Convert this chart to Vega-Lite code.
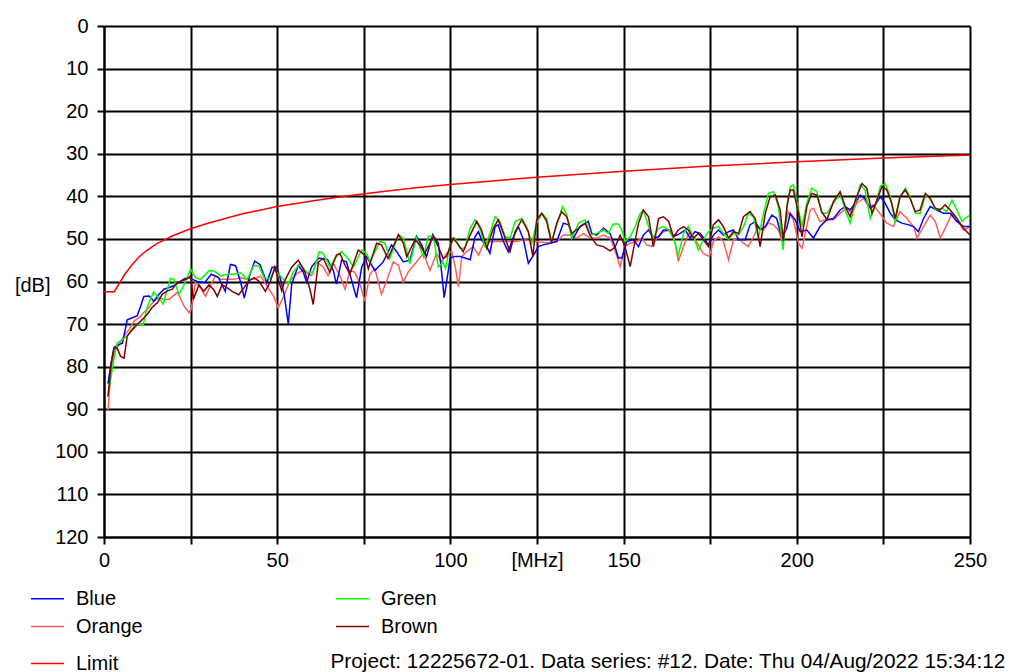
{
"$schema":"https://vega.github.io/schema/vega-lite/v6.json",
"width":866,"height":511,
"autosize":{"type":"none"},
"padding":{"left":104,"top":26,"right":52,"bottom":135},
"background":"white",
"config":{"font":"Liberation Sans","view":{"stroke":null},
"axis":{"grid":true,"gridColor":"#000000","gridWidth":2,"gridOpacity":1,"domainColor":"#000000","domainWidth":2,"tickColor":"#000000","tickWidth":2,"tickSize":7,"labelFontSize":20,"labelColor":"#000000","labelOverlap":false,"labelFlush":false,"labelBound":false,"titleFontSize":20,"titleFontWeight":"normal","titleColor":"#000000"},
"legend":{"labelFontSize":20,"labelColor":"#000000","symbolType":"stroke","symbolStrokeWidth":1.5,"symbolSize":1089,"labelOffset":11,"padding":0,"title":null}},
"datasets":{
"meas":[
{"series":"Orange","MHz":1.15,"dB":90.2},{"series":"Orange","MHz":1.9,"dB":82.3},{"series":"Orange","MHz":2.9,"dB":76.8},{"series":"Orange","MHz":4.3,"dB":74.8},{"series":"Orange","MHz":5.8,"dB":72.8},{"series":"Orange","MHz":7.2,"dB":71.3},{"series":"Orange","MHz":8.7,"dB":69.3},{"series":"Orange","MHz":10.1,"dB":68.5},{"series":"Orange","MHz":11.5,"dB":67.3},{"series":"Orange","MHz":13,"dB":66.1},{"series":"Orange","MHz":14.4,"dB":64.6},{"series":"Orange","MHz":15.9,"dB":63.8},{"series":"Orange","MHz":17.3,"dB":64.2},{"series":"Orange","MHz":18.8,"dB":64.2},{"series":"Orange","MHz":20.2,"dB":63.2},{"series":"Orange","MHz":21.2,"dB":62.5},{"series":"Orange","MHz":23.1,"dB":65.7},{"series":"Orange","MHz":24.5,"dB":67.3},{"series":"Orange","MHz":25.2,"dB":66.5},{"series":"Orange","MHz":26.4,"dB":60.2},{"series":"Orange","MHz":27.9,"dB":61.5},{"series":"Orange","MHz":29.3,"dB":63.5},{"series":"Orange","MHz":30.8,"dB":60.8},{"series":"Orange","MHz":32.2,"dB":58.7},{"series":"Orange","MHz":33.7,"dB":59.5},{"series":"Orange","MHz":35.6,"dB":59.5},{"series":"Orange","MHz":37.5,"dB":59.5},{"series":"Orange","MHz":39.4,"dB":59.1},{"series":"Orange","MHz":41.3,"dB":59.5},{"series":"Orange","MHz":43.3,"dB":59.5},{"series":"Orange","MHz":45.2,"dB":58.7},{"series":"Orange","MHz":47.1,"dB":61.1},{"series":"Orange","MHz":49,"dB":63.5},{"series":"Orange","MHz":50.3,"dB":66.2},{"series":"Orange","MHz":51.7,"dB":63.8},{"series":"Orange","MHz":53.7,"dB":59.8},{"series":"Orange","MHz":55.6,"dB":58.2},{"series":"Orange","MHz":57.5,"dB":57.4},{"series":"Orange","MHz":59.9,"dB":58.6},{"series":"Orange","MHz":61.4,"dB":55.4},{"series":"Orange","MHz":63.3,"dB":56.6},{"series":"Orange","MHz":64.7,"dB":58.6},{"series":"Orange","MHz":66.2,"dB":55.8},{"series":"Orange","MHz":68.1,"dB":58.6},{"series":"Orange","MHz":69.6,"dB":61.8},{"series":"Orange","MHz":71,"dB":57.4},{"series":"Orange","MHz":72.4,"dB":57.8},{"series":"Orange","MHz":73.9,"dB":60.6},{"series":"Orange","MHz":75.3,"dB":64.6},{"series":"Orange","MHz":76.8,"dB":58.2},{"series":"Orange","MHz":78.2,"dB":57},{"series":"Orange","MHz":80.1,"dB":63},{"series":"Orange","MHz":81.6,"dB":59.8},{"series":"Orange","MHz":83.5,"dB":55.4},{"series":"Orange","MHz":85,"dB":56.2},{"series":"Orange","MHz":86.4,"dB":60.2},{"series":"Orange","MHz":87.8,"dB":57.8},{"series":"Orange","MHz":90.2,"dB":55.4},{"series":"Orange","MHz":92.2,"dB":53.4},{"series":"Orange","MHz":94.1,"dB":57.4},{"series":"Orange","MHz":96,"dB":53.4},{"series":"Orange","MHz":97.5,"dB":55.4},{"series":"Orange","MHz":98.9,"dB":53.4},{"series":"Orange","MHz":100.4,"dB":53},{"series":"Orange","MHz":101.5,"dB":57},{"series":"Orange","MHz":102.3,"dB":61.2},{"series":"Orange","MHz":103.3,"dB":54.1},{"series":"Orange","MHz":104.7,"dB":53},{"series":"Orange","MHz":106.6,"dB":51.8},{"series":"Orange","MHz":108.1,"dB":53.8},{"series":"Orange","MHz":109.5,"dB":51.4},{"series":"Orange","MHz":111.4,"dB":50.6},{"series":"Orange","MHz":115.3,"dB":50.6},{"series":"Orange","MHz":119.1,"dB":50.6},{"series":"Orange","MHz":121.1,"dB":50.2},{"series":"Orange","MHz":124.9,"dB":50.6},{"series":"Orange","MHz":128.8,"dB":51},{"series":"Orange","MHz":130.7,"dB":50.6},{"series":"Orange","MHz":132.6,"dB":49.1},{"series":"Orange","MHz":134.5,"dB":49.1},{"series":"Orange","MHz":136.5,"dB":49.8},{"series":"Orange","MHz":138.4,"dB":48.7},{"series":"Orange","MHz":140.3,"dB":49.8},{"series":"Orange","MHz":142.2,"dB":49.8},{"series":"Orange","MHz":144.2,"dB":49.1},{"series":"Orange","MHz":146.1,"dB":49.8},{"series":"Orange","MHz":147.5,"dB":52.6},{"series":"Orange","MHz":149,"dB":56.5},{"series":"Orange","MHz":150.4,"dB":51.8},{"series":"Orange","MHz":151.9,"dB":51},{"series":"Orange","MHz":153.8,"dB":50.6},{"series":"Orange","MHz":155.2,"dB":49.8},{"series":"Orange","MHz":156.7,"dB":51.4},{"series":"Orange","MHz":158.1,"dB":51.8},{"series":"Orange","MHz":159.6,"dB":49.8},{"series":"Orange","MHz":161.5,"dB":48.3},{"series":"Orange","MHz":163.4,"dB":47.9},{"series":"Orange","MHz":164.9,"dB":51},{"series":"Orange","MHz":165.8,"dB":55.3},{"series":"Orange","MHz":167.3,"dB":51.8},{"series":"Orange","MHz":168.7,"dB":48.7},{"series":"Orange","MHz":170.2,"dB":49.5},{"series":"Orange","MHz":171.6,"dB":51.4},{"series":"Orange","MHz":173,"dB":53.4},{"series":"Orange","MHz":174.8,"dB":54.1},{"series":"Orange","MHz":175.9,"dB":50.6},{"series":"Orange","MHz":177.4,"dB":49.5},{"series":"Orange","MHz":178.8,"dB":50.6},{"series":"Orange","MHz":180.3,"dB":54.9},{"series":"Orange","MHz":181.7,"dB":50.2},{"series":"Orange","MHz":183.2,"dB":49.8},{"series":"Orange","MHz":184.6,"dB":51},{"series":"Orange","MHz":186,"dB":51.8},{"series":"Orange","MHz":187.5,"dB":49.5},{"series":"Orange","MHz":188.9,"dB":47.1},{"series":"Orange","MHz":190.4,"dB":47.9},{"series":"Orange","MHz":191.8,"dB":46.3},{"series":"Orange","MHz":193.3,"dB":46.7},{"series":"Orange","MHz":194.7,"dB":47.9},{"series":"Orange","MHz":195.7,"dB":50.6},{"series":"Orange","MHz":197.5,"dB":43.7},{"series":"Orange","MHz":199,"dB":45.5},{"series":"Orange","MHz":200.5,"dB":51},{"series":"Orange","MHz":201.5,"dB":52.2},{"series":"Orange","MHz":203.9,"dB":43.2},{"series":"Orange","MHz":204.8,"dB":42.8},{"series":"Orange","MHz":206.7,"dB":45.9},{"series":"Orange","MHz":208.7,"dB":45.5},{"series":"Orange","MHz":210.6,"dB":45.5},{"series":"Orange","MHz":212.5,"dB":44},{"series":"Orange","MHz":214.4,"dB":42.8},{"series":"Orange","MHz":215.9,"dB":44},{"series":"Orange","MHz":217.3,"dB":41.6},{"series":"Orange","MHz":219.3,"dB":40.5},{"series":"Orange","MHz":220.7,"dB":42.4},{"series":"Orange","MHz":222.1,"dB":42},{"series":"Orange","MHz":223.6,"dB":43.6},{"series":"Orange","MHz":226,"dB":46.3},{"series":"Orange","MHz":227.9,"dB":47.1},{"series":"Orange","MHz":229.8,"dB":43.6},{"series":"Orange","MHz":231.8,"dB":45.2},{"series":"Orange","MHz":233.7,"dB":47.1},{"series":"Orange","MHz":234.7,"dB":49.8},{"series":"Orange","MHz":236.6,"dB":47.1},{"series":"Orange","MHz":238.5,"dB":44.4},{"series":"Orange","MHz":240,"dB":45.9},{"series":"Orange","MHz":241.4,"dB":49.8},{"series":"Orange","MHz":243.3,"dB":46.7},{"series":"Orange","MHz":244.8,"dB":44},{"series":"Orange","MHz":246.2,"dB":45.2},{"series":"Orange","MHz":248.1,"dB":47.9},{"series":"Orange","MHz":250,"dB":47.1},
{"series":"Blue","MHz":1.15,"dB":84},{"series":"Blue","MHz":1.9,"dB":80},{"series":"Blue","MHz":2.9,"dB":75.5},{"series":"Blue","MHz":3.8,"dB":75},{"series":"Blue","MHz":5.3,"dB":74.5},{"series":"Blue","MHz":6.2,"dB":71},{"series":"Blue","MHz":6.7,"dB":69},{"series":"Blue","MHz":8.2,"dB":68.5},{"series":"Blue","MHz":9.6,"dB":68},{"series":"Blue","MHz":10.5,"dB":66},{"series":"Blue","MHz":11.5,"dB":63.5},{"series":"Blue","MHz":13,"dB":63.4},{"series":"Blue","MHz":14.4,"dB":64.6},{"series":"Blue","MHz":15.9,"dB":63},{"series":"Blue","MHz":17.3,"dB":61.8},{"series":"Blue","MHz":18.8,"dB":61.4},{"series":"Blue","MHz":20.2,"dB":61},{"series":"Blue","MHz":21.6,"dB":60.2},{"series":"Blue","MHz":23.1,"dB":59.4},{"series":"Blue","MHz":24.5,"dB":59},{"series":"Blue","MHz":25.5,"dB":59.5},{"series":"Blue","MHz":27,"dB":60},{"series":"Blue","MHz":29,"dB":60.3},{"series":"Blue","MHz":31,"dB":58.3},{"series":"Blue","MHz":33,"dB":59},{"series":"Blue","MHz":35,"dB":62.3},{"series":"Blue","MHz":36.5,"dB":56},{"series":"Blue","MHz":38,"dB":56.3},{"series":"Blue","MHz":39.5,"dB":60.3},{"series":"Blue","MHz":40.5,"dB":63.9},{"series":"Blue","MHz":42,"dB":58.7},{"series":"Blue","MHz":43.5,"dB":55.2},{"series":"Blue","MHz":45,"dB":56},{"series":"Blue","MHz":47,"dB":60.3},{"series":"Blue","MHz":48.5,"dB":56.7},{"series":"Blue","MHz":49.8,"dB":56.6},{"series":"Blue","MHz":50.8,"dB":59},{"series":"Blue","MHz":52,"dB":63},{"series":"Blue","MHz":53.2,"dB":70},{"series":"Blue","MHz":54.2,"dB":60.6},{"series":"Blue","MHz":56.1,"dB":56.2},{"series":"Blue","MHz":57.5,"dB":57.8},{"series":"Blue","MHz":58.5,"dB":60.2},{"series":"Blue","MHz":59.9,"dB":56.6},{"series":"Blue","MHz":62,"dB":54.5},{"series":"Blue","MHz":64.5,"dB":54.8},{"series":"Blue","MHz":66.2,"dB":57.4},{"series":"Blue","MHz":67.1,"dB":60.6},{"series":"Blue","MHz":68.6,"dB":55},{"series":"Blue","MHz":70,"dB":55.4},{"series":"Blue","MHz":71.5,"dB":59.8},{"series":"Blue","MHz":72.9,"dB":63.8},{"series":"Blue","MHz":74.4,"dB":56.6},{"series":"Blue","MHz":75.8,"dB":54.2},{"series":"Blue","MHz":78.2,"dB":57.4},{"series":"Blue","MHz":80.6,"dB":55.4},{"series":"Blue","MHz":83,"dB":51.4},{"series":"Blue","MHz":84.5,"dB":53},{"series":"Blue","MHz":86.4,"dB":55.4},{"series":"Blue","MHz":88.3,"dB":55},{"series":"Blue","MHz":90.2,"dB":49.4},{"series":"Blue","MHz":91.7,"dB":51.4},{"series":"Blue","MHz":93.1,"dB":54.2},{"series":"Blue","MHz":94.9,"dB":49},{"series":"Blue","MHz":96.5,"dB":51},{"series":"Blue","MHz":97.5,"dB":58},{"series":"Blue","MHz":98.2,"dB":63.8},{"series":"Blue","MHz":99.4,"dB":57.4},{"series":"Blue","MHz":99.9,"dB":54.5},{"series":"Blue","MHz":101.3,"dB":54.1},{"series":"Blue","MHz":102.8,"dB":54.1},{"series":"Blue","MHz":104.2,"dB":54.5},{"series":"Blue","MHz":105.7,"dB":54.9},{"series":"Blue","MHz":107.1,"dB":49.5},{"series":"Blue","MHz":108.1,"dB":48.3},{"series":"Blue","MHz":109,"dB":50.2},{"series":"Blue","MHz":110.5,"dB":51.8},{"series":"Blue","MHz":111.4,"dB":53.4},{"series":"Blue","MHz":112.9,"dB":47.1},{"series":"Blue","MHz":113.8,"dB":46.7},{"series":"Blue","MHz":115.3,"dB":50.6},{"series":"Blue","MHz":116.7,"dB":53},{"series":"Blue","MHz":118.2,"dB":49.5},{"series":"Blue","MHz":119.6,"dB":47.1},{"series":"Blue","MHz":121.1,"dB":50.2},{"series":"Blue","MHz":122.5,"dB":55.7},{"series":"Blue","MHz":124,"dB":53.8},{"series":"Blue","MHz":125.4,"dB":51.8},{"series":"Blue","MHz":126.8,"dB":51.4},{"series":"Blue","MHz":128.8,"dB":51},{"series":"Blue","MHz":130.7,"dB":50.6},{"series":"Blue","MHz":132.6,"dB":46.3},{"series":"Blue","MHz":134.1,"dB":46.7},{"series":"Blue","MHz":135.5,"dB":49.8},{"series":"Blue","MHz":137.4,"dB":47.1},{"series":"Blue","MHz":139.8,"dB":45.9},{"series":"Blue","MHz":140.8,"dB":48.7},{"series":"Blue","MHz":142.2,"dB":49.1},{"series":"Blue","MHz":144.2,"dB":47.5},{"series":"Blue","MHz":146.1,"dB":48.7},{"series":"Blue","MHz":147.5,"dB":51.8},{"series":"Blue","MHz":148.5,"dB":54.5},{"series":"Blue","MHz":149.5,"dB":54.5},{"series":"Blue","MHz":150.9,"dB":50.6},{"series":"Blue","MHz":152.8,"dB":50.2},{"series":"Blue","MHz":154.3,"dB":51.8},{"series":"Blue","MHz":155.7,"dB":49.1},{"series":"Blue","MHz":157.2,"dB":47.9},{"series":"Blue","MHz":158.6,"dB":49.8},{"series":"Blue","MHz":160.1,"dB":49.5},{"series":"Blue","MHz":161.5,"dB":47.9},{"series":"Blue","MHz":163,"dB":47.9},{"series":"Blue","MHz":164.4,"dB":49.5},{"series":"Blue","MHz":166.3,"dB":48.7},{"series":"Blue","MHz":167.8,"dB":47.9},{"series":"Blue","MHz":169.2,"dB":49.8},{"series":"Blue","MHz":170.6,"dB":48.3},{"series":"Blue","MHz":172.1,"dB":48.7},{"series":"Blue","MHz":173.5,"dB":50.2},{"series":"Blue","MHz":174.5,"dB":51.4},{"series":"Blue","MHz":175.9,"dB":49.1},{"series":"Blue","MHz":177.4,"dB":47.9},{"series":"Blue","MHz":178.8,"dB":49.1},{"series":"Blue","MHz":180.3,"dB":48.3},{"series":"Blue","MHz":181.7,"dB":47.9},{"series":"Blue","MHz":183.2,"dB":50.2},{"series":"Blue","MHz":185.1,"dB":50.2},{"series":"Blue","MHz":186.5,"dB":46.7},{"series":"Blue","MHz":188,"dB":45.9},{"series":"Blue","MHz":189.4,"dB":47.9},{"series":"Blue","MHz":190.9,"dB":47.1},{"series":"Blue","MHz":192.8,"dB":44.4},{"series":"Blue","MHz":194.2,"dB":45.2},{"series":"Blue","MHz":195.7,"dB":49.8},{"series":"Blue","MHz":197.1,"dB":47.5},{"series":"Blue","MHz":198.1,"dB":44},{"series":"Blue","MHz":199.5,"dB":45.5},{"series":"Blue","MHz":201,"dB":48.3},{"series":"Blue","MHz":202.9,"dB":47.9},{"series":"Blue","MHz":204.8,"dB":49.8},{"series":"Blue","MHz":206.7,"dB":47.1},{"series":"Blue","MHz":208.7,"dB":45.5},{"series":"Blue","MHz":210.6,"dB":45.2},{"series":"Blue","MHz":212.5,"dB":43.2},{"series":"Blue","MHz":214,"dB":42.4},{"series":"Blue","MHz":215.4,"dB":43.2},{"series":"Blue","MHz":216.9,"dB":41.6},{"series":"Blue","MHz":218.3,"dB":39.7},{"series":"Blue","MHz":219.7,"dB":40.5},{"series":"Blue","MHz":221.2,"dB":42.8},{"series":"Blue","MHz":222.6,"dB":42},{"series":"Blue","MHz":224.1,"dB":40.1},{"series":"Blue","MHz":225.5,"dB":41.6},{"series":"Blue","MHz":227,"dB":44},{"series":"Blue","MHz":228.4,"dB":45.5},{"series":"Blue","MHz":230.3,"dB":46.3},{"series":"Blue","MHz":232.3,"dB":46.7},{"series":"Blue","MHz":233.7,"dB":47.1},{"series":"Blue","MHz":235.1,"dB":48.3},{"series":"Blue","MHz":236.6,"dB":45.2},{"series":"Blue","MHz":238.5,"dB":42.4},{"series":"Blue","MHz":240.4,"dB":43.2},{"series":"Blue","MHz":242.4,"dB":44},{"series":"Blue","MHz":244.3,"dB":44},{"series":"Blue","MHz":246.2,"dB":45.9},{"series":"Blue","MHz":248.1,"dB":47.1},{"series":"Blue","MHz":250,"dB":47.1},
{"series":"Green","MHz":1.15,"dB":87},{"series":"Green","MHz":1.9,"dB":83},{"series":"Green","MHz":2.9,"dB":78},{"series":"Green","MHz":3.8,"dB":74.5},{"series":"Green","MHz":5.3,"dB":73.6},{"series":"Green","MHz":6.7,"dB":72.8},{"series":"Green","MHz":8.7,"dB":70.5},{"series":"Green","MHz":10,"dB":70},{"series":"Green","MHz":11.3,"dB":70.2},{"series":"Green","MHz":12.5,"dB":66},{"series":"Green","MHz":14.3,"dB":62.5},{"series":"Green","MHz":15.5,"dB":63.5},{"series":"Green","MHz":17.1,"dB":65.3},{"series":"Green","MHz":18.2,"dB":62},{"series":"Green","MHz":19.2,"dB":59.3},{"series":"Green","MHz":20.2,"dB":59.5},{"series":"Green","MHz":21.6,"dB":63},{"series":"Green","MHz":23,"dB":61},{"series":"Green","MHz":25,"dB":57.1},{"series":"Green","MHz":26.4,"dB":59.1},{"series":"Green","MHz":27.9,"dB":59.5},{"series":"Green","MHz":30.3,"dB":57.5},{"series":"Green","MHz":31.7,"dB":57.5},{"series":"Green","MHz":33.7,"dB":58.7},{"series":"Green","MHz":35.6,"dB":58.3},{"series":"Green","MHz":37.5,"dB":58.3},{"series":"Green","MHz":39.4,"dB":57.9},{"series":"Green","MHz":41.3,"dB":59.5},{"series":"Green","MHz":43.3,"dB":56.3},{"series":"Green","MHz":44.7,"dB":56.3},{"series":"Green","MHz":46.2,"dB":59.1},{"series":"Green","MHz":47.9,"dB":59.4},{"series":"Green","MHz":49.3,"dB":57.4},{"series":"Green","MHz":51.7,"dB":59.4},{"series":"Green","MHz":53.2,"dB":60.6},{"series":"Green","MHz":54.6,"dB":57.8},{"series":"Green","MHz":56.6,"dB":55.8},{"series":"Green","MHz":58.5,"dB":57.8},{"series":"Green","MHz":60.4,"dB":57.8},{"series":"Green","MHz":62.1,"dB":53},{"series":"Green","MHz":63.3,"dB":53.4},{"series":"Green","MHz":65.2,"dB":56.6},{"series":"Green","MHz":66.8,"dB":54.5},{"series":"Green","MHz":68.6,"dB":53},{"series":"Green","MHz":70.5,"dB":54.6},{"series":"Green","MHz":72,"dB":56.6},{"series":"Green","MHz":74.4,"dB":52.6},{"series":"Green","MHz":75.8,"dB":53.4},{"series":"Green","MHz":76.8,"dB":55.4},{"series":"Green","MHz":79.7,"dB":50.6},{"series":"Green","MHz":81.1,"dB":51},{"series":"Green","MHz":82.5,"dB":54.6},{"series":"Green","MHz":85,"dB":49},{"series":"Green","MHz":86.4,"dB":49.8},{"series":"Green","MHz":88.3,"dB":55.8},{"series":"Green","MHz":90.2,"dB":49.8},{"series":"Green","MHz":92.2,"dB":54.2},{"series":"Green","MHz":93.6,"dB":49.4},{"series":"Green","MHz":95.1,"dB":49.4},{"series":"Green","MHz":96.5,"dB":56.6},{"series":"Green","MHz":97.9,"dB":55.5},{"series":"Green","MHz":98.6,"dB":57},{"series":"Green","MHz":99.9,"dB":51.4},{"series":"Green","MHz":101.3,"dB":49.8},{"series":"Green","MHz":102.8,"dB":52.2},{"series":"Green","MHz":104.2,"dB":52.2},{"series":"Green","MHz":105.7,"dB":47.5},{"series":"Green","MHz":107.1,"dB":45.5},{"series":"Green","MHz":108.5,"dB":47.5},{"series":"Green","MHz":110,"dB":51.8},{"series":"Green","MHz":111.4,"dB":48.7},{"series":"Green","MHz":112.9,"dB":44.8},{"series":"Green","MHz":114.3,"dB":45.9},{"series":"Green","MHz":115.8,"dB":49.5},{"series":"Green","MHz":117.2,"dB":49.8},{"series":"Green","MHz":118.7,"dB":45.9},{"series":"Green","MHz":120.6,"dB":45.2},{"series":"Green","MHz":122,"dB":47.1},{"series":"Green","MHz":123.5,"dB":51},{"series":"Green","MHz":124.9,"dB":46.3},{"series":"Green","MHz":126.4,"dB":44},{"series":"Green","MHz":127.8,"dB":45.2},{"series":"Green","MHz":129.2,"dB":50.6},{"series":"Green","MHz":130.7,"dB":46.7},{"series":"Green","MHz":132.4,"dB":42.4},{"series":"Green","MHz":133.6,"dB":44.4},{"series":"Green","MHz":135,"dB":49.8},{"series":"Green","MHz":137,"dB":46.3},{"series":"Green","MHz":138.9,"dB":45.5},{"series":"Green","MHz":140.3,"dB":49.1},{"series":"Green","MHz":142.2,"dB":48.7},{"series":"Green","MHz":144.2,"dB":47.9},{"series":"Green","MHz":145.6,"dB":48.7},{"series":"Green","MHz":147,"dB":46.5},{"series":"Green","MHz":148.5,"dB":46.5},{"series":"Green","MHz":149.5,"dB":48},{"series":"Green","MHz":150.4,"dB":50.6},{"series":"Green","MHz":151.9,"dB":49.5},{"series":"Green","MHz":153.3,"dB":47.1},{"series":"Green","MHz":154.8,"dB":44},{"series":"Green","MHz":155.7,"dB":43.2},{"series":"Green","MHz":157.2,"dB":47.1},{"series":"Green","MHz":158.6,"dB":49.8},{"series":"Green","MHz":160.1,"dB":47.5},{"series":"Green","MHz":161.5,"dB":47.1},{"series":"Green","MHz":163,"dB":47.9},{"series":"Green","MHz":164.4,"dB":49.8},{"series":"Green","MHz":165.8,"dB":53.8},{"series":"Green","MHz":167.3,"dB":48.7},{"series":"Green","MHz":168.7,"dB":47.1},{"series":"Green","MHz":170.2,"dB":49.5},{"series":"Green","MHz":171.6,"dB":52.6},{"series":"Green","MHz":173,"dB":50.2},{"series":"Green","MHz":174.5,"dB":48.3},{"series":"Green","MHz":175.9,"dB":47.5},{"series":"Green","MHz":177.4,"dB":47.1},{"series":"Green","MHz":178.8,"dB":48.7},{"series":"Green","MHz":180.3,"dB":50.2},{"series":"Green","MHz":181.7,"dB":48.7},{"series":"Green","MHz":183.2,"dB":49.1},{"series":"Green","MHz":184.6,"dB":47.1},{"series":"Green","MHz":186,"dB":44},{"series":"Green","MHz":187.5,"dB":44.8},{"series":"Green","MHz":188.9,"dB":49.8},{"series":"Green","MHz":190.4,"dB":44},{"series":"Green","MHz":191.8,"dB":39.3},{"series":"Green","MHz":193.3,"dB":38.9},{"series":"Green","MHz":194.7,"dB":42.4},{"series":"Green","MHz":196,"dB":52.6},{"series":"Green","MHz":197.1,"dB":43},{"series":"Green","MHz":198.1,"dB":37.7},{"series":"Green","MHz":199,"dB":37.3},{"series":"Green","MHz":200.5,"dB":43.2},{"series":"Green","MHz":201.5,"dB":47.1},{"series":"Green","MHz":202.9,"dB":41.6},{"series":"Green","MHz":204.3,"dB":38.1},{"series":"Green","MHz":205.8,"dB":38.9},{"series":"Green","MHz":207.2,"dB":44},{"series":"Green","MHz":208.7,"dB":44},{"series":"Green","MHz":210.6,"dB":41.6},{"series":"Green","MHz":212.5,"dB":39.3},{"series":"Green","MHz":214,"dB":43.2},{"series":"Green","MHz":215.4,"dB":46.3},{"series":"Green","MHz":216.9,"dB":41.6},{"series":"Green","MHz":218.3,"dB":37.3},{"series":"Green","MHz":219.7,"dB":38.5},{"series":"Green","MHz":221.2,"dB":45.2},{"series":"Green","MHz":222.6,"dB":42.4},{"series":"Green","MHz":224.1,"dB":37.7},{"series":"Green","MHz":225.5,"dB":37},{"series":"Green","MHz":227,"dB":40.1},{"series":"Green","MHz":228.4,"dB":46.3},{"series":"Green","MHz":229.8,"dB":40.1},{"series":"Green","MHz":231.3,"dB":38.1},{"series":"Green","MHz":232.7,"dB":40.1},{"series":"Green","MHz":234.2,"dB":44},{"series":"Green","MHz":235.6,"dB":44},{"series":"Green","MHz":237.1,"dB":39.7},{"series":"Green","MHz":238.5,"dB":40.5},{"series":"Green","MHz":240,"dB":43.2},{"series":"Green","MHz":241.9,"dB":42.8},{"series":"Green","MHz":243.3,"dB":43.6},{"series":"Green","MHz":244.8,"dB":40.9},{"series":"Green","MHz":246.2,"dB":43.2},{"series":"Green","MHz":247.7,"dB":45.9},{"series":"Green","MHz":249.1,"dB":44.8},{"series":"Green","MHz":250,"dB":44.4},
{"series":"Brown","MHz":1.15,"dB":87},{"series":"Brown","MHz":2.1,"dB":79},{"series":"Brown","MHz":2.9,"dB":75.6},{"series":"Brown","MHz":3.8,"dB":75.6},{"series":"Brown","MHz":4.8,"dB":77.6},{"series":"Brown","MHz":5.8,"dB":78},{"series":"Brown","MHz":6.7,"dB":72.8},{"series":"Brown","MHz":8.2,"dB":71.3},{"series":"Brown","MHz":9.6,"dB":70.1},{"series":"Brown","MHz":11.1,"dB":68.9},{"series":"Brown","MHz":12.5,"dB":67.7},{"series":"Brown","MHz":13.9,"dB":66.1},{"series":"Brown","MHz":15.4,"dB":65},{"series":"Brown","MHz":16.8,"dB":63},{"series":"Brown","MHz":18.3,"dB":62.2},{"series":"Brown","MHz":19.7,"dB":61.8},{"series":"Brown","MHz":21.2,"dB":60.2},{"series":"Brown","MHz":22.6,"dB":59.8},{"series":"Brown","MHz":24,"dB":59.4},{"series":"Brown","MHz":25,"dB":58.7},{"series":"Brown","MHz":25.8,"dB":64.2},{"series":"Brown","MHz":27.4,"dB":60.8},{"series":"Brown","MHz":28.8,"dB":62.3},{"series":"Brown","MHz":30.3,"dB":60.8},{"series":"Brown","MHz":31.7,"dB":61.9},{"series":"Brown","MHz":32.7,"dB":63.5},{"series":"Brown","MHz":34.1,"dB":60.8},{"series":"Brown","MHz":35.6,"dB":61.5},{"series":"Brown","MHz":37,"dB":62.3},{"series":"Brown","MHz":38.9,"dB":63.1},{"series":"Brown","MHz":40.4,"dB":61.5},{"series":"Brown","MHz":41.8,"dB":59.9},{"series":"Brown","MHz":43.3,"dB":59.1},{"series":"Brown","MHz":44.7,"dB":59.9},{"series":"Brown","MHz":46.6,"dB":62.3},{"series":"Brown","MHz":48.1,"dB":59.9},{"series":"Brown","MHz":49.3,"dB":56.6},{"series":"Brown","MHz":51.3,"dB":62.2},{"series":"Brown","MHz":52.2,"dB":59.8},{"series":"Brown","MHz":54.2,"dB":56.6},{"series":"Brown","MHz":56.1,"dB":55},{"series":"Brown","MHz":58,"dB":57.8},{"series":"Brown","MHz":59.5,"dB":62},{"series":"Brown","MHz":60.4,"dB":65.4},{"series":"Brown","MHz":61.9,"dB":55.4},{"series":"Brown","MHz":63.3,"dB":54.6},{"series":"Brown","MHz":65.2,"dB":57.8},{"series":"Brown","MHz":67.1,"dB":53.8},{"series":"Brown","MHz":68.1,"dB":53.4},{"series":"Brown","MHz":69.6,"dB":56.2},{"series":"Brown","MHz":71,"dB":58.2},{"series":"Brown","MHz":73.4,"dB":52.6},{"series":"Brown","MHz":75.3,"dB":53.8},{"series":"Brown","MHz":76.3,"dB":57},{"series":"Brown","MHz":78.7,"dB":51},{"series":"Brown","MHz":80.1,"dB":51.4},{"series":"Brown","MHz":82,"dB":54.6},{"series":"Brown","MHz":85,"dB":49},{"series":"Brown","MHz":86.4,"dB":51},{"series":"Brown","MHz":87.4,"dB":54.2},{"series":"Brown","MHz":89.8,"dB":50.2},{"series":"Brown","MHz":91.2,"dB":51.4},{"series":"Brown","MHz":92.6,"dB":53.4},{"series":"Brown","MHz":95.1,"dB":49.4},{"series":"Brown","MHz":96.5,"dB":51.8},{"series":"Brown","MHz":97.9,"dB":54.6},{"series":"Brown","MHz":98.9,"dB":54.1},{"series":"Brown","MHz":100.8,"dB":49.8},{"series":"Brown","MHz":102.3,"dB":51.4},{"series":"Brown","MHz":103.7,"dB":53},{"series":"Brown","MHz":105.7,"dB":49.1},{"series":"Brown","MHz":107.6,"dB":45.9},{"series":"Brown","MHz":109,"dB":47.9},{"series":"Brown","MHz":110.5,"dB":52.2},{"series":"Brown","MHz":112.4,"dB":47.5},{"series":"Brown","MHz":113.8,"dB":45.5},{"series":"Brown","MHz":115.3,"dB":48.7},{"series":"Brown","MHz":117.2,"dB":53},{"series":"Brown","MHz":118.7,"dB":48.3},{"series":"Brown","MHz":120.6,"dB":45.5},{"series":"Brown","MHz":122.5,"dB":48.3},{"series":"Brown","MHz":123.8,"dB":54.1},{"series":"Brown","MHz":124.9,"dB":45.5},{"series":"Brown","MHz":126.4,"dB":44},{"series":"Brown","MHz":127.8,"dB":45.9},{"series":"Brown","MHz":129.2,"dB":51},{"series":"Brown","MHz":130.7,"dB":46.3},{"series":"Brown","MHz":132.1,"dB":43.6},{"series":"Brown","MHz":133.6,"dB":44.8},{"series":"Brown","MHz":135,"dB":48.7},{"series":"Brown","MHz":137,"dB":47.5},{"series":"Brown","MHz":138.9,"dB":46.3},{"series":"Brown","MHz":140.3,"dB":49.1},{"series":"Brown","MHz":142.2,"dB":51.4},{"series":"Brown","MHz":144.2,"dB":51.8},{"series":"Brown","MHz":146.1,"dB":52.8},{"series":"Brown","MHz":147.5,"dB":52},{"series":"Brown","MHz":149,"dB":49.1},{"series":"Brown","MHz":150.4,"dB":51.8},{"series":"Brown","MHz":151.9,"dB":56.5},{"series":"Brown","MHz":153,"dB":51.8},{"series":"Brown","MHz":154.3,"dB":46.3},{"series":"Brown","MHz":155.7,"dB":43.2},{"series":"Brown","MHz":157.2,"dB":44.8},{"series":"Brown","MHz":158.6,"dB":51.8},{"series":"Brown","MHz":160.1,"dB":45.2},{"series":"Brown","MHz":161.5,"dB":44.8},{"series":"Brown","MHz":163,"dB":45.9},{"series":"Brown","MHz":164.4,"dB":49.5},{"series":"Brown","MHz":165.8,"dB":47.9},{"series":"Brown","MHz":167.3,"dB":47.1},{"series":"Brown","MHz":168.7,"dB":47.9},{"series":"Brown","MHz":170.2,"dB":49.8},{"series":"Brown","MHz":171.6,"dB":48.7},{"series":"Brown","MHz":173,"dB":50.2},{"series":"Brown","MHz":174.5,"dB":51.8},{"series":"Brown","MHz":175.9,"dB":46.7},{"series":"Brown","MHz":177.4,"dB":45.5},{"series":"Brown","MHz":178.8,"dB":47.1},{"series":"Brown","MHz":180.3,"dB":49.8},{"series":"Brown","MHz":181.7,"dB":48.3},{"series":"Brown","MHz":183.2,"dB":48.7},{"series":"Brown","MHz":184.6,"dB":44.8},{"series":"Brown","MHz":186.5,"dB":43.6},{"series":"Brown","MHz":188,"dB":45.2},{"series":"Brown","MHz":189.4,"dB":51.8},{"series":"Brown","MHz":190.9,"dB":44},{"series":"Brown","MHz":192.3,"dB":40.1},{"series":"Brown","MHz":193.8,"dB":39.7},{"series":"Brown","MHz":195.2,"dB":43.2},{"series":"Brown","MHz":196.1,"dB":50.5},{"series":"Brown","MHz":197.3,"dB":41.6},{"series":"Brown","MHz":198.1,"dB":38.5},{"series":"Brown","MHz":199,"dB":38.5},{"series":"Brown","MHz":200.5,"dB":44},{"series":"Brown","MHz":201.5,"dB":49.5},{"series":"Brown","MHz":202.9,"dB":42.4},{"series":"Brown","MHz":204.3,"dB":39.3},{"series":"Brown","MHz":205.8,"dB":39.7},{"series":"Brown","MHz":207.2,"dB":43.6},{"series":"Brown","MHz":208.7,"dB":45.5},{"series":"Brown","MHz":210.6,"dB":41.2},{"series":"Brown","MHz":212.5,"dB":38.9},{"series":"Brown","MHz":214,"dB":42.4},{"series":"Brown","MHz":215.4,"dB":44.8},{"series":"Brown","MHz":216.9,"dB":40.9},{"series":"Brown","MHz":218.8,"dB":37},{"series":"Brown","MHz":220.2,"dB":38.1},{"series":"Brown","MHz":221.7,"dB":44},{"series":"Brown","MHz":223.1,"dB":40.9},{"series":"Brown","MHz":224.6,"dB":37.7},{"series":"Brown","MHz":226,"dB":38.5},{"series":"Brown","MHz":227.4,"dB":41.6},{"series":"Brown","MHz":228.4,"dB":45.2},{"series":"Brown","MHz":229.8,"dB":40.1},{"series":"Brown","MHz":231.3,"dB":38.5},{"series":"Brown","MHz":232.7,"dB":40.5},{"series":"Brown","MHz":234.2,"dB":43.6},{"series":"Brown","MHz":235.6,"dB":43.2},{"series":"Brown","MHz":237.1,"dB":39.3},{"series":"Brown","MHz":238.5,"dB":40.5},{"series":"Brown","MHz":240,"dB":42.8},{"series":"Brown","MHz":241.4,"dB":43.2},{"series":"Brown","MHz":242.8,"dB":42},{"series":"Brown","MHz":244.3,"dB":43.2},{"series":"Brown","MHz":246.2,"dB":45.2},{"series":"Brown","MHz":248.1,"dB":47.5},{"series":"Brown","MHz":250,"dB":49.1}
],
"limit":[
{"series":"Limit","MHz":0,"dB":62.4},{"series":"Limit","MHz":3,"dB":62.4},{"series":"Limit","MHz":4,"dB":61},{"series":"Limit","MHz":5,"dB":59.7},{"series":"Limit","MHz":6,"dB":58.3},{"series":"Limit","MHz":8,"dB":56.2},{"series":"Limit","MHz":10,"dB":54.3},{"series":"Limit","MHz":12,"dB":52.9},{"series":"Limit","MHz":15,"dB":51.2},{"series":"Limit","MHz":20,"dB":49.2},{"series":"Limit","MHz":25,"dB":47.6},{"series":"Limit","MHz":30,"dB":46.3},{"series":"Limit","MHz":35,"dB":45.2},{"series":"Limit","MHz":40,"dB":44.1},{"series":"Limit","MHz":50,"dB":42.4},{"series":"Limit","MHz":60,"dB":41.1},{"series":"Limit","MHz":70,"dB":39.9},{"series":"Limit","MHz":80,"dB":38.9},{"series":"Limit","MHz":90,"dB":38},{"series":"Limit","MHz":100,"dB":37.2},{"series":"Limit","MHz":125,"dB":35.5},{"series":"Limit","MHz":150,"dB":34.1},{"series":"Limit","MHz":175,"dB":32.9},{"series":"Limit","MHz":200,"dB":31.9},{"series":"Limit","MHz":225,"dB":31},{"series":"Limit","MHz":250,"dB":30.3}
]},
"layer":[
{"data":{"name":"meas"},
"mark":{"type":"line","strokeWidth":1.5,"clip":true},
"encoding":{
"x":{"field":"MHz","type":"quantitative","scale":{"domain":[0,250],"nice":false,"zero":false},
"axis":{"values":[0,25,50,75,100,125,150,175,200,225,250],"labelExpr":"datum.value % 50 == 0 ? datum.label : (datum.value == 125 ? '[MHz]' : '')","labelPadding":6,"title":"Project: 12225672-01. Data series: #12. Date: Thu 04/Aug/2022 15:34:12","titleFontSize":20.8,"titleX":226,"titleY":124,"titleAlign":"left","titleBaseline":"middle","titleAnchor":null}},
"y":{"field":"dB","type":"quantitative","scale":{"domain":[0,120],"reverse":true,"nice":false,"zero":false},
"axis":{"values":[0,10,20,30,40,50,60,70,80,90,100,110,120],"labelPadding":9,"title":"[dB]","titleAngle":0,"titleX":-54,"titleY":259,"titleAlign":"right","titleBaseline":"middle","titleAnchor":null}},
"color":{"field":"series","type":"nominal","scale":{"domain":["Blue","Green","Orange","Brown"],"range":["#0000FF","#00FF00","#FF5C5C","#800000"]},
"legend":{"orient":"none","legendX":-74,"legendY":555,"columns":2,"columnPadding":190,"rowPadding":0,"direction":"horizontal"}}}},
{"data":{"name":"limit"},
"mark":{"type":"line","strokeWidth":1.5,"clip":true},
"encoding":{
"x":{"field":"MHz","type":"quantitative"},
"y":{"field":"dB","type":"quantitative"},
"stroke":{"field":"series","type":"nominal","scale":{"domain":["Limit"],"range":["#FF0000"]},
"legend":{"orient":"none","legendX":-74,"legendY":620}}}}
]
}
